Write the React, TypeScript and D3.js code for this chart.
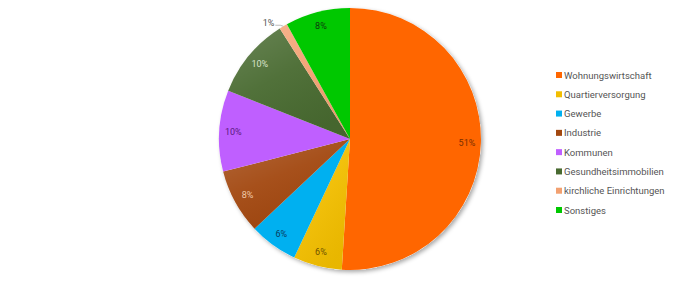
import React from "react";
import * as d3 from "d3";

const categories = [
  "Wohnungswirtschaft",
  "Quartierversorgung",
  "Gewerbe",
  "Industrie",
  "Kommunen",
  "Gesundheitsimmobilien",
  "kirchliche Einrichtungen",
  "Sonstiges",
];
const values = [51, 6, 6, 8, 10, 10, 1, 8];
const labels = ["51%", "6%", "6%", "8%", "10%", "10%", "1%", "8%"];
const colors = ["#FF6600", "#F2BE00", "#00B0F0", "#A2470F", "#BF5FFF", "#486A30", "#F2A070", "#00C800"];
const labelColors = ["#7a2e00", "#6e5200", "#0a3c5e", "#f0c8a8", "#5a1a80", "#d8e4cc", "#666666", "#0f3a0f"];

export default function App() {
  const W = 700, H = 282;
  const cx = 350, cy = 139, R = 131;
  const pie = d3.pie<number>().sort(null).value((d) => d);
  const arcs = pie(values);
  const arc = d3.arc<d3.PieArcDatum<number>>().innerRadius(0).outerRadius(R);
  const labelArc = d3.arc<d3.PieArcDatum<number>>().innerRadius(117).outerRadius(117);
  const legendY = d3.scalePoint<string>().domain(categories).range([75, 210]);

  return (
    <svg width={W} height={H} style={{ position: "absolute", left: 0, top: 0, background: "#fff" }}>
      <defs>
        <filter id="sh" x="-20%" y="-20%" width="140%" height="140%">
          <feDropShadow dx="2" dy="2" stdDeviation="2" floodColor="#000" floodOpacity="0.35" />
        </filter>
        <linearGradient id="hl" x1="0" y1="0" x2="0.6" y2="1">
          <stop offset="0" stopColor="#fff" stopOpacity="0.18" />
          <stop offset="0.5" stopColor="#fff" stopOpacity="0.05" />
          <stop offset="1" stopColor="#000" stopOpacity="0.04" />
        </linearGradient>
      </defs>
      <g transform={`translate(${cx},${cy})`}>
        <circle r={R} fill="#fff" filter="url(#sh)" />
        {arcs.map((a, i) => (
          <path key={i} d={arc(a) || ""} fill={colors[i]} />
        ))}
        {arcs.map((a, i) => (
          <path key={"h" + i} d={arc(a) || ""} fill="url(#hl)" opacity={i === 0 || i === 4 || i === 2 || i === 7 ? 0 : 1} />
        ))}
        {arcs.map((a, i) => {
          if (i === 6) {
            const mid = (a.startAngle + a.endAngle) / 2;
            const px = Math.sin(mid) * R, py = -Math.cos(mid) * R;
            return (
              <g key={"l" + i}>
                <polyline points={`${px},${py} ${px - 3},${py - 1} ${px - 8},${py - 1}`} fill="none" stroke="#aaa" strokeWidth={0.8} />
                <text x={px - 9} y={py - 3} textAnchor="end" dominantBaseline="central" fontFamily="Roboto, sans-serif" fontSize={9} fill="#555">
                  {labels[i]}
                </text>
              </g>
            );
          }
          const [x, y] = labelArc.centroid(a);
          return (
            <text key={"l" + i} x={x} y={y} textAnchor="middle" dominantBaseline="central" fontFamily="Roboto, sans-serif" fontSize={9} fill={labelColors[i]}>
              {labels[i]}
            </text>
          );
        })}
      </g>
      <g>
        {categories.map((c, i) => (
          <g key={c} transform={`translate(556,${legendY(c)})`}>
            <rect x={0} y={-3} width={6} height={6} fill={colors[i]} />
            <text x={8} y={0} dominantBaseline="central" fontFamily="Roboto, sans-serif" fontSize={9.5} fill="#555">
              {c}
            </text>
          </g>
        ))}
      </g>
    </svg>
  );
}
